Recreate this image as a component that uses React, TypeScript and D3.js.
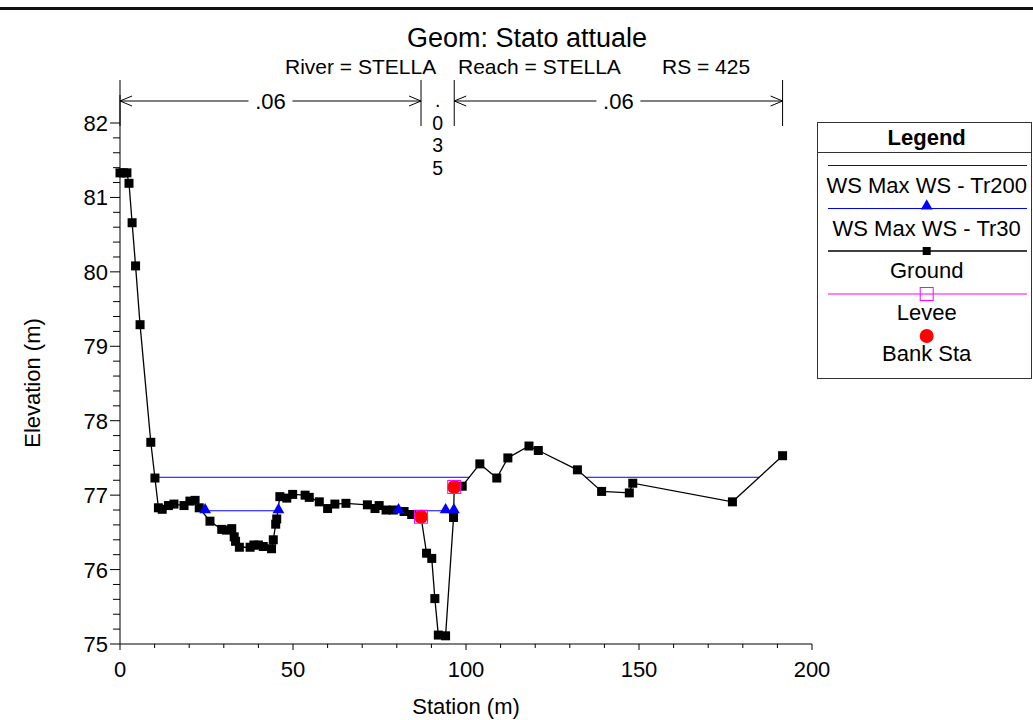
import React from "react";
import * as d3 from "d3";

const groundStation = [0, 1.0, 2.0, 2.6, 3.5, 4.5, 5.8, 8.9, 10.1, 11.1, 12.2, 14.0, 15.6, 18.5, 20.2, 21.7, 22.9, 26.0, 29.4, 30.8, 32.3, 33.0, 33.4, 34.5, 37.6, 38.7, 40.0, 41.4, 43.8, 44.3, 45.0, 45.3, 46.2, 48.2, 49.9, 53.5, 54.7, 57.6, 60.0, 62.1, 65.3, 71.5, 73.7, 74.9, 76.9, 79.0, 82.1, 84.3, 87.0, 88.6, 90.1, 91.0, 92.0, 94.1, 96.4, 96.6, 98.9, 104.0, 108.9, 112.1, 118.2, 120.9, 132.2, 139.2, 147.2, 148.2, 177.0, 191.5];
const groundElev = [81.33, 81.33, 81.33, 81.19, 80.66, 80.08, 79.29, 77.71, 77.23, 76.83, 76.81, 76.86, 76.88, 76.86, 76.92, 76.93, 76.83, 76.65, 76.54, 76.53, 76.55, 76.44, 76.38, 76.30, 76.30, 76.33, 76.33, 76.31, 76.28, 76.40, 76.61, 76.68, 76.98, 76.96, 77.01, 77.00, 76.97, 76.91, 76.82, 76.88, 76.89, 76.87, 76.82, 76.86, 76.80, 76.80, 76.78, 76.74, 76.71, 76.22, 76.15, 75.61, 75.12, 75.11, 76.70, 77.11, 77.12, 77.42, 77.23, 77.50, 77.66, 77.60, 77.34, 77.05, 77.03, 77.16, 76.91, 77.53];

const tr200Elev = 77.24;
const tr200Segments = [[10.08, 100.9], [108.6, 109.0], [134.6, 184.7]];
const tr30Elev = 76.79;
const tr30Segments = [[24.6, 45.8], [80.5, 96.5]];
const tr30Markers = [24.6, 45.8, 80.5, 94.1, 96.5];

const bankStation = [87.0, 96.6];
const bankElev = [76.71, 77.11];

const manningBreaks = [0, 87.0, 96.6, 191.5];
const manningValues = [".06", ".035", ".06"];

const xTicks = [0, 50, 100, 150, 200];
const yTicks = [75, 76, 77, 78, 79, 80, 81, 82];

const FONT = "'Liberation Sans', Arial, Helvetica, sans-serif";
const FS = 22;

export default function App() {
  const x = d3.scaleLinear().domain([0, 200]).range([120, 812]);
  const y = d3.scaleLinear().domain([75, 82]).range([644, 123]);

  const line = d3.line<number>().x((d, i) => x(groundStation[i])).y((d) => y(d));
  const groundPath = line(groundElev) || "";

  const xMinor = d3.range(0, 201, 10);
  const yMinor = d3.range(75, 82.001, 0.2);

  const tri = d3.symbol().type(d3.symbolTriangle).size(60)() || "";
  const sq = 9;

  const arrowY = 101;
  const barTop = 80;
  const barBot = 126;

  const legendX = 926.7;

  const arrowHead = (px: number, dir: number, key: string) => (
    <path
      key={key}
      d={`M${px + dir * 12},${arrowY - 5} L${px},${arrowY} L${px + dir * 12},${arrowY + 5}`}
      fill="none"
      stroke="#000"
      strokeWidth={1}
    />
  );

  return (
    <svg width={1033} height={720} style={{ position: "absolute", left: 0, top: 0, background: "#fff" }} fontFamily={FONT}>
      <rect x={0} y={0} width={1033} height={720} fill="#fff" />
      <line x1={0} x2={1033} y1={8.5} y2={8.5} stroke="#111" strokeWidth={3} />

      <text x={527} y={47} textAnchor="middle" fontSize={27}>Geom: Stato attuale</text>
      <text x={285} y={74} fontSize={21}>River = STELLA</text>
      <text x={458} y={74} fontSize={21}>Reach = STELLA</text>
      <text x={662} y={74} fontSize={21}>RS = 425</text>

      {/* Manning's n annotation */}
      {manningBreaks.map((b, i) => (
        <line key={"mb" + i} x1={x(b)} x2={x(b)} y1={barTop} y2={barBot} stroke="#000" strokeWidth={1} />
      ))}
      {manningValues.map((v, i) => {
        const a = x(manningBreaks[i]);
        const b = x(manningBreaks[i + 1]);
        const c = (a + b) / 2;
        if (b - a < 60) {
          return (
            <text key={"mv" + i} x={c} y={107} textAnchor="middle" fontSize={19.5}>
              {v.split("").map((ch, j) => (
                <tspan key={j} x={c} dy={j === 0 ? 0 : 22.5}>{ch}</tspan>
              ))}
            </text>
          );
        }
        const half = 22;
        return (
          <g key={"mv" + i}>
            <line x1={a} x2={c - half} y1={arrowY} y2={arrowY} stroke="#000" strokeWidth={1} />
            <line x1={c + half} x2={b} y1={arrowY} y2={arrowY} stroke="#000" strokeWidth={1} />
            {arrowHead(a, 1, "l")}
            {arrowHead(b, -1, "r")}
            <text x={c} y={109} textAnchor="middle" fontSize={FS}>{v}</text>
          </g>
        );
      })}

      {/* axes */}
      <line x1={120} x2={812} y1={644} y2={644} stroke="#000" strokeWidth={1} />
      <line x1={120} x2={120} y1={95} y2={644} stroke="#000" strokeWidth={1} />
      {xMinor.map((t) => (
        <line key={"xm" + t} x1={x(t)} x2={x(t)} y1={644} y2={t % 50 === 0 ? 650 : 648} stroke="#000" strokeWidth={1} />
      ))}
      {yMinor.map((t, i) => {
        const major = Math.abs(t - Math.round(t)) < 1e-6;
        return <line key={"ym" + i} x1={major ? 110 : 113} x2={120} y1={y(t)} y2={y(t)} stroke="#000" strokeWidth={1} />;
      })}
      {xTicks.map((t) => (
        <text key={"xt" + t} x={x(t)} y={677} textAnchor="middle" fontSize={FS}>{t}</text>
      ))}
      {yTicks.map((t) => (
        <text key={"yt" + t} x={108} y={y(t) + 8} textAnchor="end" fontSize={FS}>{t}</text>
      ))}
      <text x={466} y={714} textAnchor="middle" fontSize={FS}>Station (m)</text>
      <text transform={`translate(40,383) rotate(-90)`} textAnchor="middle" fontSize={FS}>Elevation (m)</text>

      {/* water surfaces */}
      {tr200Segments.map((s, i) => (
        <line key={"w2" + i} x1={x(s[0])} x2={x(s[1])} y1={y(tr200Elev)} y2={y(tr200Elev)} stroke="#0000ff" strokeWidth={1} />
      ))}
      {tr30Segments.map((s, i) => (
        <line key={"w3" + i} x1={x(s[0])} x2={x(s[1])} y1={y(tr30Elev)} y2={y(tr30Elev)} stroke="#0000ff" strokeWidth={1} />
      ))}

      {/* ground */}
      <path d={groundPath} fill="none" stroke="#000" strokeWidth={1.3} />
      {groundElev.map((e, i) => (
        <rect key={"g" + i} x={x(groundStation[i]) - sq / 2} y={y(e) - sq / 2} width={sq} height={sq} fill="#000" />
      ))}

      {tr30Markers.map((s, i) => (
        <path key={"t" + i} d={tri} transform={`translate(${x(s)},${y(tr30Elev) - 1})`} fill="#0000ff" />
      ))}

      {/* bank stations & levees */}
      {bankStation.map((s, i) => (
        <g key={"b" + i}>
          <circle cx={x(s)} cy={y(bankElev[i])} r={7} fill="#ff0000" />
          <rect x={x(s) - 6.5} y={y(bankElev[i]) - 6.5} width={13} height={13} fill="none" stroke="#ff00ff" strokeWidth={1} />
        </g>
      ))}

      {/* legend */}
      <rect x={817.5} y={122.5} width={214} height={256} fill="#fff" stroke="#333" strokeWidth={1} />
      <line x1={817.5} x2={1031.5} y1={152.5} y2={152.5} stroke="#333" strokeWidth={1} />
      <text x={legendX} y={144.5} textAnchor="middle" fontSize={FS} fontWeight="bold">Legend</text>

      <line x1={828} x2={1027} y1={165.5} y2={165.5} stroke="#0000ff" strokeWidth={1} />
      <text x={legendX} y={193} textAnchor="middle" fontSize={FS}>WS Max WS - Tr200</text>

      <line x1={828} x2={1027} y1={208.5} y2={208.5} stroke="#0000ff" strokeWidth={1} />
      <path d={tri} transform={`translate(${legendX},${206})`} fill="#0000ff" />
      <text x={legendX} y={235.5} textAnchor="middle" fontSize={FS}>WS Max WS - Tr30</text>

      <line x1={828} x2={1027} y1={251} y2={251} stroke="#000" strokeWidth={1.3} />
      <rect x={legendX - 4} y={247} width={8} height={8} fill="#000" />
      <text x={legendX} y={277.5} textAnchor="middle" fontSize={FS}>Ground</text>

      <line x1={828} x2={1027} y1={294} y2={294} stroke="#ff00ff" strokeWidth={1} />
      <rect x={legendX - 6.5} y={287.5} width={13} height={13} fill="none" stroke="#ff00ff" strokeWidth={1} />
      <text x={legendX} y={319.5} textAnchor="middle" fontSize={FS}>Levee</text>

      <circle cx={legendX} cy={336} r={7} fill="#ff0000" />
      <text x={legendX} y={361} textAnchor="middle" fontSize={FS}>Bank Sta</text>
    </svg>
  );
}
